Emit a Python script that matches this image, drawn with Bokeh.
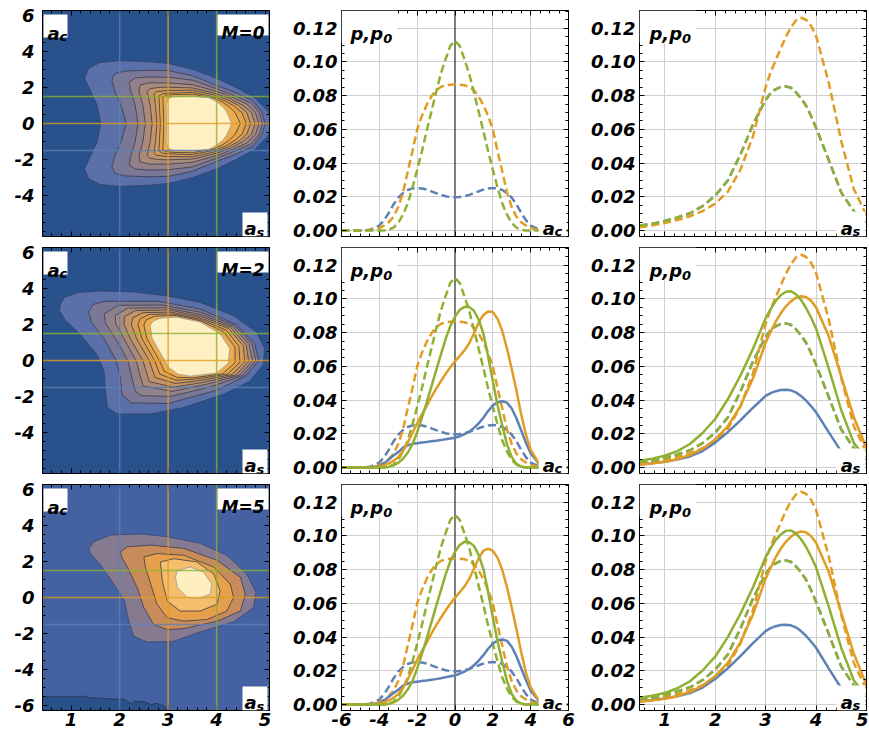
import numpy as np
from bokeh.plotting import figure
from bokeh.layouts import gridplot
from bokeh.models import (Range1d, LinearAxis, FixedTicker, Grid, Span, Label,
                          BoxAnnotation, PrintfTickFormatter)
from bokeh.embed import file_html
from bokeh.resources import INLINE

BLUE, ORANGE, GREEN = "#5E81B5", "#E19C24", "#8FB032"
FONT = "DejaVu Sans"

# ---------------- slice positions / panel labels ----------------
M_VALUES = [0, 2, 5]
SLICE_AS = [2.0, 3.0, 4.0]          # vertical lines (blue, orange, green)
SLICE_AC = [-1.5, 0.0, 1.5]         # horizontal lines (blue, orange, green)
SLICE_COLORS = [BLUE, ORANGE, GREEN]

# ---------------- middle column: p, p0 versus a_c ----------------
AC_F = [-6, -5, -4.5, -4, -3.75, -3.5, -3.25, -3, -2.75, -2.5, -2.25, -2, -1.75, -1.5, -1.25, -1,
        -0.75, -0.5, -0.25, 0, 0.25, 0.5, 0.75, 1, 1.25, 1.5, 1.75, 2, 2.25, 2.5, 2.75, 3, 3.25,
        3.5, 3.75, 4, 4.5, 5, 6]

P0_AC_BLUE = [0, 0, 0.0005, 0.003, 0.0062, 0.0105, 0.0155, 0.0195, 0.0222, 0.0241, 0.025, 0.0252,
              0.025, 0.0243, 0.0233, 0.0222, 0.0212, 0.0204, 0.0199, 0.0197, 0.0199, 0.0204, 0.0212,
              0.0222, 0.0233, 0.0243, 0.025, 0.0252, 0.025, 0.0241, 0.0222, 0.0195, 0.0155, 0.0105,
              0.0062, 0.003, 0.0005, 0, 0]
P0_AC_ORANGE = [0, 0, 0.0003, 0.0015, 0.003, 0.005, 0.0082, 0.014, 0.0225, 0.035, 0.047, 0.06,
                0.068, 0.0745, 0.0795, 0.0832, 0.0852, 0.0862, 0.0865, 0.0866, 0.0865, 0.0862, 0.0852,
                0.0832, 0.0795, 0.0745, 0.068, 0.06, 0.047, 0.035, 0.0225, 0.014, 0.0082, 0.005,
                0.003, 0.0015, 0.0003, 0, 0]
P0_AC_GREEN = [0, 0, 0, 0, 0.0001, 0.0005, 0.0018, 0.0045, 0.0095, 0.016, 0.0255, 0.036, 0.047,
               0.059, 0.0705, 0.082, 0.093, 0.1015, 0.1095, 0.1125, 0.1095, 0.1015, 0.093, 0.082,
               0.0705, 0.059, 0.047, 0.036, 0.0255, 0.016, 0.0095, 0.0045, 0.0018, 0.0005, 0.0001,
               0, 0, 0, 0]

P_AC_BLUE_M2 = [0, 0, 0.0002, 0.001, 0.0025, 0.0048, 0.0071, 0.0092, 0.0118, 0.0132, 0.0141, 0.0145,
                0.0149, 0.0152, 0.0156, 0.0159, 0.0163, 0.0168, 0.0173, 0.0177, 0.0186, 0.0198, 0.0213,
                0.0235, 0.0262, 0.0296, 0.0335, 0.0368, 0.0387, 0.0393, 0.0385, 0.035, 0.0293, 0.022,
                0.0148, 0.0085, 0.0013, 0, 0]
P_AC_ORANGE_M2 = [0, 0, 0.0001, 0.0007, 0.0014, 0.0025, 0.004, 0.0062, 0.0098, 0.0148, 0.0205, 0.0264,
                  0.0315, 0.0365, 0.0418, 0.0467, 0.0512, 0.0555, 0.0595, 0.063, 0.0662, 0.0695, 0.0737,
                  0.0795, 0.086, 0.0905, 0.0926, 0.0922, 0.0882, 0.081, 0.0705, 0.0585, 0.0455, 0.0315,
                  0.0195, 0.0105, 0.0013, 0, 0]
P_AC_GREEN_M2 = [0, 0, 0, 0, 0.0001, 0.0004, 0.0013, 0.0028, 0.0052, 0.0088, 0.0138, 0.021, 0.0295,
                 0.0385, 0.048, 0.0575, 0.0668, 0.0762, 0.0838, 0.0895, 0.0935, 0.0953, 0.0952, 0.093,
                 0.0878, 0.0795, 0.066, 0.0512, 0.037, 0.025, 0.0138, 0.0062, 0.0022, 0.0006, 0.0001,
                 0, 0, 0, 0]

P_AC_BLUE_M5 = [0, 0, 0.0002, 0.001, 0.0024, 0.0046, 0.0068, 0.0088, 0.0112, 0.0125, 0.0132, 0.0136,
                0.014, 0.0143, 0.0147, 0.0151, 0.0156, 0.0162, 0.0168, 0.0173, 0.0183, 0.0196, 0.0211,
                0.0233, 0.026, 0.0293, 0.0331, 0.0362, 0.038, 0.0386, 0.0378, 0.0343, 0.0287, 0.0216,
                0.0145, 0.0083, 0.0013, 0, 0]
P_AC_ORANGE_M5 = [0, 0, 0.0001, 0.0007, 0.0014, 0.0025, 0.004, 0.0063, 0.0099, 0.0149, 0.0206, 0.0266,
                  0.0317, 0.0367, 0.042, 0.047, 0.0515, 0.0558, 0.0598, 0.0633, 0.0666, 0.07, 0.0745,
                  0.0805, 0.0868, 0.0912, 0.0925, 0.0912, 0.087, 0.0798, 0.0695, 0.0575, 0.0447, 0.031,
                  0.019, 0.0102, 0.0012, 0, 0]
P_AC_GREEN_M5 = [0, 0, 0, 0, 0.0001, 0.0004, 0.0013, 0.0028, 0.0053, 0.0089, 0.014, 0.0213, 0.0299,
                 0.039, 0.0486, 0.0582, 0.0676, 0.0771, 0.0848, 0.0906, 0.0946, 0.0965, 0.0963, 0.0941,
                 0.0888, 0.0805, 0.0668, 0.0518, 0.0374, 0.0253, 0.014, 0.0063, 0.0022, 0.0006, 0.0001,
                 0, 0, 0, 0]

# ---------------- right column: p, p0 versus a_s ----------------
AS_F = [0.5, 0.75, 1.0, 1.25, 1.5, 1.75, 2.0, 2.25, 2.5, 2.75, 3.0, 3.1, 3.2, 3.3, 3.4, 3.5, 3.6,
        3.7, 3.8, 3.9, 4.0, 4.25, 4.5, 4.75, 5.0]

P0_AS_ORANGE = [0.002, 0.003, 0.0045, 0.0063, 0.0085, 0.0115, 0.016, 0.023, 0.036, 0.056, 0.085,
                0.094, 0.101, 0.108, 0.1148, 0.1205, 0.1245, 0.1262, 0.125, 0.1215, 0.1155, 0.088,
                0.053, 0.0245, 0.009]
P0_AS_GREEN = [0.003, 0.004, 0.0057, 0.0078, 0.0103, 0.0145, 0.0207, 0.0297, 0.045, 0.063, 0.0775,
               0.0815, 0.0838, 0.0852, 0.0855, 0.0847, 0.082, 0.0785, 0.0742, 0.068, 0.061, 0.042,
               0.0225, 0.0115, 0.005]
P0_AS_BLUE = [0.003, 0.004, 0.0057, 0.0078, 0.0103, 0.0145, 0.0207, 0.0297, 0.045, 0.063, 0.0775,
              0.0815, 0.0838, 0.0852, 0.0855, 0.0847, 0.082, 0.0785, 0.0742, 0.068, 0.061, 0.042,
              0.0225, 0.0115, 0.005]

P_AS_GREEN_M2 = [0.004, 0.0052, 0.007, 0.0098, 0.014, 0.0205, 0.0288, 0.0405, 0.0545, 0.0705, 0.0885,
                 0.094, 0.0988, 0.1022, 0.1043, 0.1046, 0.1028, 0.0995, 0.0948, 0.089, 0.0825, 0.059,
                 0.034, 0.0145, 0.005]
P_AS_ORANGE_M2 = [0.0018, 0.0025, 0.0035, 0.005, 0.0075, 0.0112, 0.0167, 0.0245, 0.0365, 0.053, 0.074,
                  0.0805, 0.0865, 0.0915, 0.0955, 0.0985, 0.1007, 0.1016, 0.1012, 0.099, 0.095, 0.078,
                  0.054, 0.0298, 0.0115]
P_AS_BLUE_M2 = [0.0018, 0.0025, 0.0035, 0.0048, 0.0066, 0.0098, 0.0148, 0.021, 0.028, 0.0355, 0.0425,
                0.0442, 0.0453, 0.046, 0.0462, 0.0458, 0.0446, 0.0425, 0.0398, 0.0365, 0.0328, 0.021,
                0.0095, 0.0045, 0.002]

P_AS_GREEN_M5 = [0.004, 0.0052, 0.0069, 0.0097, 0.0138, 0.0202, 0.0284, 0.04, 0.0538, 0.0696, 0.0874,
                 0.0928, 0.0975, 0.1009, 0.103, 0.1033, 0.1015, 0.0982, 0.0936, 0.0878, 0.0814, 0.0582,
                 0.0336, 0.0143, 0.005]
P_AS_ORANGE_M5 = [0.0018, 0.0025, 0.0035, 0.005, 0.0076, 0.0113, 0.0169, 0.0247, 0.0369, 0.0535, 0.0747,
                  0.0813, 0.0874, 0.0924, 0.0965, 0.0995, 0.1017, 0.1026, 0.1022, 0.1, 0.096, 0.0788,
                  0.0545, 0.0301, 0.0116]
P_AS_BLUE_M5 = [0.0018, 0.0026, 0.0036, 0.0049, 0.0068, 0.0101, 0.0152, 0.0215, 0.0287, 0.0364, 0.0436,
                0.0453, 0.0465, 0.0472, 0.0474, 0.047, 0.0458, 0.0436, 0.0408, 0.0374, 0.0337, 0.0215,
                0.0097, 0.0046, 0.002]

# ---------------- left column: contour rings (a_s, a_c) ----------------
# M=0: upper halves (symmetric in a_c), outer ring first
M0_AS = [
    [1.61, 1.54, 1.40, 1.28, 1.36, 1.60, 2.00, 2.60, 3.00, 3.50, 4.00, 4.40, 4.80, 5.05, 5.20],
    [2.14, 2.03, 1.90, 1.84, 1.90, 2.10, 2.60, 3.00, 3.50, 4.00, 4.40, 4.75, 4.93, 5.00],
    [2.38, 2.32, 2.22, 2.20, 2.32, 2.60, 3.00, 3.50, 4.00, 4.40, 4.72, 4.88, 4.94],
    [2.53, 2.48, 2.40, 2.42, 2.60, 3.00, 3.50, 4.00, 4.35, 4.62, 4.80, 4.87],
    [2.67, 2.63, 2.57, 2.62, 2.80, 3.00, 3.50, 4.00, 4.30, 4.53, 4.72, 4.79],
    [2.77, 2.74, 2.71, 2.76, 3.00, 3.50, 4.00, 4.25, 4.45, 4.62, 4.70],
    [2.84, 2.82, 2.81, 2.88, 3.00, 3.50, 4.00, 4.20, 4.35, 4.52, 4.61],
    [2.91, 2.90, 2.89, 2.95, 3.10, 3.50, 3.95, 4.12, 4.25, 4.38, 4.49],
    [2.97, 2.96, 2.99, 3.08, 3.50, 3.85, 4.00, 4.12, 4.21, 4.31],
]
M0_AC = [
    [0, 1.0, 1.8, 2.5, 3.05, 3.38, 3.48, 3.42, 3.32, 3.0, 2.5, 2.0, 1.4, 0.7, 0],
    [0, 1.0, 1.8, 2.4, 2.75, 2.90, 2.95, 2.93, 2.65, 2.10, 1.70, 1.25, 0.64, 0],
    [0, 1.0, 1.9, 2.3, 2.52, 2.58, 2.56, 2.40, 1.92, 1.50, 1.12, 0.60, 0],
    [0, 1.0, 1.8, 2.12, 2.25, 2.25, 2.15, 1.78, 1.42, 1.08, 0.60, 0],
    [0, 1.0, 1.75, 1.92, 2.0, 2.01, 1.97, 1.65, 1.35, 1.02, 0.60, 0],
    [0, 1.0, 1.62, 1.76, 1.83, 1.84, 1.55, 1.28, 1.0, 0.60, 0],
    [0, 1.0, 1.52, 1.64, 1.68, 1.72, 1.45, 1.22, 0.98, 0.60, 0],
    [0, 1.0, 1.45, 1.56, 1.60, 1.62, 1.40, 1.18, 0.95, 0.60, 0],
    [0, 1.0, 1.35, 1.48, 1.52, 1.42, 1.20, 0.95, 0.64, 0],
]
# M=2: full rings
M2_AS = [
    [1.54, 1.20, 0.86, 0.76, 0.78, 0.86, 1.13, 1.61, 2.29, 2.98, 3.66, 4.34, 4.82, 4.99, 4.96, 4.68, 4.14, 3.32, 2.63, 1.95, 1.75, 1.71, 1.68],
    [1.93, 1.68, 1.42, 1.36, 1.45, 1.70, 2.80, 3.66, 4.40, 4.78, 4.87, 4.60, 4.00, 3.00, 2.25, 2.05, 2.02],
    [2.17, 1.92, 1.71, 1.68, 1.98, 2.89, 3.66, 4.37, 4.73, 4.81, 4.54, 3.87, 3.05, 2.45, 2.32],
    [2.34, 2.09, 1.92, 1.91, 2.17, 2.96, 3.66, 4.33, 4.67, 4.74, 4.47, 3.77, 3.08, 2.48],
    [2.48, 2.22, 2.09, 2.10, 2.33, 3.01, 3.66, 4.29, 4.61, 4.66, 4.40, 3.70, 3.11, 2.61],
    [2.61, 2.35, 2.24, 2.27, 2.48, 3.06, 3.66, 4.25, 4.55, 4.58, 4.32, 3.63, 3.14, 2.73],
    [2.72, 2.46, 2.38, 2.42, 2.61, 3.10, 3.66, 4.20, 4.46, 4.48, 4.23, 3.57, 3.16, 2.83],
    [2.82, 2.56, 2.50, 2.55, 2.72, 3.14, 3.66, 4.14, 4.38, 4.38, 4.13, 3.51, 3.18, 2.92],
    [2.93, 2.67, 2.63, 2.70, 2.85, 3.18, 3.66, 4.07, 4.27, 4.24, 4.00, 3.45, 3.20, 3.02],
]
M2_AC = [
    [0.31, 1.40, 2.31, 2.76, 3.10, 3.49, 3.76, 3.85, 3.80, 3.58, 3.22, 2.49, 1.58, 0.67, -0.24, -1.15, -1.87, -2.60, -2.96, -2.96, -2.60, -1.69, -0.60],
    [0.0, 1.20, 2.10, 2.70, 3.10, 3.28, 3.28, 2.85, 2.00, 0.95, 0.0, -0.85, -1.65, -2.38, -2.35, -1.90, -0.96],
    [0.0, 1.20, 2.06, 2.58, 3.06, 3.07, 2.68, 1.95, 0.92, -0.02, -0.83, -1.46, -1.99, -1.95, -1.69],
    [0.0, 1.21, 2.04, 2.50, 2.90, 2.92, 2.55, 1.89, 0.89, -0.03, -0.82, -1.33, -1.71, -1.40],
    [0.0, 1.21, 2.02, 2.43, 2.77, 2.80, 2.45, 1.83, 0.86, -0.05, -0.80, -1.22, -1.48, -1.17],
    [0.0, 1.21, 2.00, 2.36, 2.65, 2.68, 2.36, 1.77, 0.82, -0.07, -0.78, -1.12, -1.27, -0.94],
    [0.0, 1.22, 1.98, 2.31, 2.55, 2.58, 2.28, 1.68, 0.78, -0.09, -0.75, -1.03, -1.09, -0.76],
    [0.0, 1.22, 1.97, 2.26, 2.45, 2.50, 2.21, 1.60, 0.73, -0.12, -0.73, -0.96, -0.93, -0.59],
    [0.0, 1.22, 1.95, 2.20, 2.35, 2.40, 2.13, 1.49, 0.67, -0.15, -0.69, -0.87, -0.75, -0.40],
]
# M=5: low-value patch (bottom-left) and full rings
M5_LOW_AS = [0.30, 1.20, 1.30, 1.35, 2.10, 2.25, 2.30, 2.55, 2.65, 2.75, 2.95, 3.00, 0.30]
M5_LOW_AC = [-5.50, -5.50, -5.45, -5.55, -5.65, -5.90, -5.75, -5.80, -5.95, -5.85, -6.05, -6.40, -6.40]
M5_AS = [
    [1.37, 1.47, 1.82, 2.43, 2.98, 3.66, 4.21, 4.62, 4.81, 4.76, 4.35, 3.66, 3.11, 2.57, 2.29, 2.19, 2.10, 1.88, 1.61, 1.40],
    [2.02, 2.16, 2.64, 3.32, 4.01, 4.49, 4.59, 4.49, 4.01, 3.32, 2.98, 2.70, 2.50, 2.36, 2.16, 2.04],
    [2.50, 2.77, 3.32, 3.94, 4.28, 4.35, 4.21, 3.80, 3.32, 2.98, 2.77, 2.64, 2.53],
    [2.84, 3.12, 3.59, 3.94, 4.07, 4.01, 3.66, 3.25, 2.98, 2.88],
    [3.19, 3.46, 3.73, 3.90, 3.87, 3.66, 3.39, 3.19, 3.15],
]
M5_AC = [
    [2.72, 3.09, 3.46, 3.52, 3.37, 3.00, 2.34, 1.31, 0.28, -0.56, -1.35, -1.91, -2.43, -2.47, -2.15, -1.31, -0.19, 0.75, 1.78, 2.43],
    [2.53, 2.81, 2.90, 2.72, 2.06, 1.12, 0.19, -0.75, -1.31, -1.72, -1.78, -1.50, -0.56, 0.56, 1.69, 2.25],
    [2.25, 2.43, 2.34, 1.69, 0.75, 0.0, -0.75, -1.22, -1.31, -1.12, -0.37, 0.75, 1.69],
    [1.97, 2.15, 1.97, 1.31, 0.37, -0.37, -0.75, -0.75, -0.19, 0.94],
    [1.50, 1.69, 1.40, 0.75, 0.19, -0.04, 0.0, 0.56, 1.12],
]

# level colours (background first, innermost last)
COLORS_M02 = ["#29528C", "#5B6FA8", "#7A7896", "#92818B", "#AA8B7A", "#C29466",
              "#D69C53", "#E5A246", "#EEAB4A", "#FFF0C3"]
COLORS_M5 = ["#4462A2", "#857A8F", "#C88C5A", "#E6A04B", "#F5BE6E", "#FFEEBE"]
COLOR_M5_LOW = "#2A5089"

# ---------------- layout geometry ----------------
FW = {"L": 227, "M": 229, "R": 229}
FH = 226
XR = {"L": (0.41, 5.09), "M": (-6.0, 6.0), "R": (0.5, 5.0)}
YR = {"L": (-6.26, 6.26), "M": (-0.0035, 0.1305), "R": (-0.0035, 0.1305)}
BORDER_LR = {"L": (42, 21), "M": (49, 20), "R": (49, 2)}
BORDER_TB = [(10, 5), (6, 5), (6, 24)]
TICK_FONT_SIZE = "18px"


def px(col, ox, oy):
    x0, x1 = XR[col]
    y0, y1 = YR[col]
    return x0 + ox / FW[col] * (x1 - x0), y1 - oy / FH * (y1 - y0)


def add_box(p, col, l, t, r, b):
    x_l, y_t = px(col, l, t)
    x_r, y_b = px(col, r, b)
    p.add_layout(BoxAnnotation(left=x_l, right=x_r, top=y_t, bottom=y_b,
                               fill_color="white", fill_alpha=1.0, line_color=None))


def add_text(p, col, ox, oy, text, size):
    x, y = px(col, ox, oy)
    p.add_layout(Label(x=x, y=y, text=text, text_font=FONT, text_font_size=size,
                       text_font_style="bold italic", text_color="black",
                       text_align="left", text_baseline="alphabetic"))


def frange(a, b, step):
    return [round(v, 4) for v in np.arange(a, b + step / 2, step)]


def add_axes(p, xt, yt, xfmt, yfmt, show_x, show_y, ystandoff):
    specs = [("below", xt, xfmt, show_x, 2), ("above", xt, xfmt, False, 0),
             ("left", yt, yfmt, show_y, ystandoff), ("right", yt, yfmt, False, 0)]
    for side, ticker, fmt, show, standoff in specs:
        ax = LinearAxis(ticker=ticker, formatter=fmt)
        ax.major_tick_in = 5
        ax.major_tick_out = 0
        ax.minor_tick_in = 3
        ax.minor_tick_out = 0
        ax.axis_line_color = "black"
        ax.major_tick_line_color = "black"
        ax.minor_tick_line_color = "black"
        if show:
            ax.major_label_text_font = FONT
            ax.major_label_text_font_size = TICK_FONT_SIZE
            ax.major_label_text_font_style = "bold italic"
            ax.major_label_text_color = "black"
            ax.major_label_standoff = standoff
        else:
            ax.major_label_text_font_size = "0px"
            ax.major_label_text_color = None
            ax.major_label_standoff = 0
        p.add_layout(ax, side)


def make_fig(col, row):
    bl, br = BORDER_LR[col]
    bt, bb = BORDER_TB[row]
    p = figure(width=bl + FW[col] + br, height=bt + FH + bb,
               x_range=Range1d(*XR[col]), y_range=Range1d(*YR[col]),
               x_axis_type=None, y_axis_type=None,
               output_backend="svg", toolbar_location=None,
               min_border=0, min_border_left=bl, min_border_right=br,
               min_border_top=bt, min_border_bottom=bb)
    p.outline_line_color = "black"
    p.outline_line_alpha = 1.0
    return p


def mirror(as_u, ac_u):
    xs = list(as_u) + list(as_u[::-1][1:-1])
    ys = list(ac_u) + [-v for v in ac_u[::-1][1:-1]]
    return xs, ys


# ---------------- left column ----------------
def contour_panel(row):
    p = make_fig("L", row)
    if row == 0:
        rings = [mirror(a, c) for a, c in zip(M0_AS, M0_AC)]
        colors = COLORS_M02
    elif row == 1:
        rings = list(zip(M2_AS, M2_AC))
        colors = COLORS_M02
    else:
        rings = list(zip(M5_AS, M5_AC))
        colors = COLORS_M5
    p.background_fill_color = colors[0]
    if row == 2:
        p.patch(M5_LOW_AS, M5_LOW_AC, fill_color=COLOR_M5_LOW, line_color="#24324f",
                line_width=1, line_alpha=0.8)
    n = len(rings)
    for i, (xs, ys) in enumerate(rings):
        if i == 0:
            lc, la = "#2d3b62", 0.6
        elif i == n - 1:
            lc, la = "#a0a0a0", 0.9
        else:
            lc, la = "#3b3b4b", 0.8
        p.patch(list(xs), list(ys), fill_color=colors[i + 1], line_color=lc,
                line_width=1, line_alpha=la)
    for loc, c in zip(SLICE_AS, SLICE_COLORS):
        p.add_layout(Span(location=loc, dimension="height", line_color=c,
                          line_width=1.5, line_alpha=0.8))
    for loc, c in zip(SLICE_AC, SLICE_COLORS):
        p.add_layout(Span(location=loc, dimension="width", line_color=c,
                          line_width=1.5, line_alpha=0.8))
    xt = FixedTicker(ticks=[1, 2, 3, 4, 5],
                     minor_ticks=[v for v in frange(0.6, 5.0, 0.2) if abs(v - round(v)) > 1e-6])
    if row == 2:
        ymaj = [-6, -4, -2, 0, 2, 4, 6]
    else:
        ymaj = [-4, -2, 0, 2, 4, 6]
    yt = FixedTicker(ticks=ymaj, minor_ticks=frange(-6.0, 6.0, 0.5))
    add_axes(p, xt, yt, PrintfTickFormatter(format="%d"), PrintfTickFormatter(format="%d"),
             row == 2, True, 8)
    # labels
    add_box(p, "L", 1, 4, 25, 27)
    add_text(p, "L", 5, 22.5, "a", "18px")
    add_text(p, "L", 17, 26, "c", "13px")
    add_box(p, "L", 175, 4, 226, 25)
    add_text(p, "L", 179, 22, "M=%d" % M_VALUES[row], "17px")
    add_box(p, "L", 200, 202, 225, 226)
    add_text(p, "L", 202, 218, "a", "18px")
    add_text(p, "L", 214, 222, "s", "13px")
    return p


def add_series(p, xs, ys, color, dashed):
    if dashed:
        p.line(xs, ys, line_color=color, line_width=2.5, line_dash="8 4")
    else:
        p.line(xs, ys, line_color=color, line_width=2.5)


def curve_axes(p, col, row):
    yt = FixedTicker(ticks=frange(0.0, 0.12, 0.02), minor_ticks=frange(0.0, 0.13, 0.005))
    if col == "M":
        xt = FixedTicker(ticks=[-6, -4, -2, 0, 2, 4, 6], minor_ticks=frange(-6.0, 6.0, 0.5))
        xg = FixedTicker(ticks=[-4, -2, 2, 4])
    else:
        xt = FixedTicker(ticks=[1, 2, 3, 4, 5],
                         minor_ticks=[v for v in frange(0.6, 5.0, 0.2) if abs(v - round(v)) > 1e-6])
        xg = FixedTicker(ticks=[1, 2, 3, 4])
    p.add_layout(Grid(dimension=0, ticker=xg, grid_line_color="#cfcfcf", grid_line_width=1))
    p.add_layout(Grid(dimension=1, ticker=FixedTicker(ticks=frange(0.0, 0.12, 0.02)),
                      grid_line_color="#cfcfcf", grid_line_width=1))
    add_axes(p, xt, yt, PrintfTickFormatter(format="%d"), PrintfTickFormatter(format="%.2f"),
             row == 2, True, 4)


def middle_panel(row):
    p = make_fig("M", row)
    curve_axes(p, "M", row)
    p.add_layout(Span(location=0, dimension="height", line_color="black", line_width=1,
                      level="underlay"))
    add_series(p, AC_F, P0_AC_BLUE, BLUE, True)
    add_series(p, AC_F, P0_AC_ORANGE, ORANGE, True)
    add_series(p, AC_F, P0_AC_GREEN, GREEN, True)
    if row == 1:
        add_series(p, AC_F, P_AC_BLUE_M2, BLUE, False)
        add_series(p, AC_F, P_AC_ORANGE_M2, ORANGE, False)
        add_series(p, AC_F, P_AC_GREEN_M2, GREEN, False)
    elif row == 2:
        add_series(p, AC_F, P_AC_BLUE_M5, BLUE, False)
        add_series(p, AC_F, P_AC_ORANGE_M5, ORANGE, False)
        add_series(p, AC_F, P_AC_GREEN_M5, GREEN, False)
    add_box(p, "M", 0, 0, 56, 32)
    add_text(p, "M", 9, 23, "p,p", "18px")
    add_text(p, "M", 42, 27.5, "0", "13px")
    add_box(p, "M", 199, 202, 227, 226)
    add_text(p, "M", 203, 218, "a", "18px")
    add_text(p, "M", 215, 221, "c", "13px")
    return p


def right_panel(row):
    p = make_fig("R", row)
    curve_axes(p, "R", row)
    add_series(p, AS_F, P0_AS_BLUE, BLUE, True)
    add_series(p, AS_F, P0_AS_ORANGE, ORANGE, True)
    add_series(p, AS_F, P0_AS_GREEN, GREEN, True)
    if row == 1:
        add_series(p, AS_F, P_AS_BLUE_M2, BLUE, False)
        add_series(p, AS_F, P_AS_ORANGE_M2, ORANGE, False)
        add_series(p, AS_F, P_AS_GREEN_M2, GREEN, False)
    elif row == 2:
        add_series(p, AS_F, P_AS_BLUE_M5, BLUE, False)
        add_series(p, AS_F, P_AS_ORANGE_M5, ORANGE, False)
        add_series(p, AS_F, P_AS_GREEN_M5, GREEN, False)
    add_box(p, "R", 0, 0, 57, 32)
    add_text(p, "R", 10, 23, "p,p", "18px")
    add_text(p, "R", 43, 27.5, "0", "13px")
    add_box(p, "R", 199, 201, 228, 226)
    add_text(p, "R", 203, 218, "a", "18px")
    add_text(p, "R", 215, 221, "s", "13px")
    return p


rows = []
for r in range(3):
    rows.append([contour_panel(r), middle_panel(r), right_panel(r)])

grid = gridplot(rows, toolbar_location=None)

open("out.html", "w").write(file_html(grid, INLINE))
